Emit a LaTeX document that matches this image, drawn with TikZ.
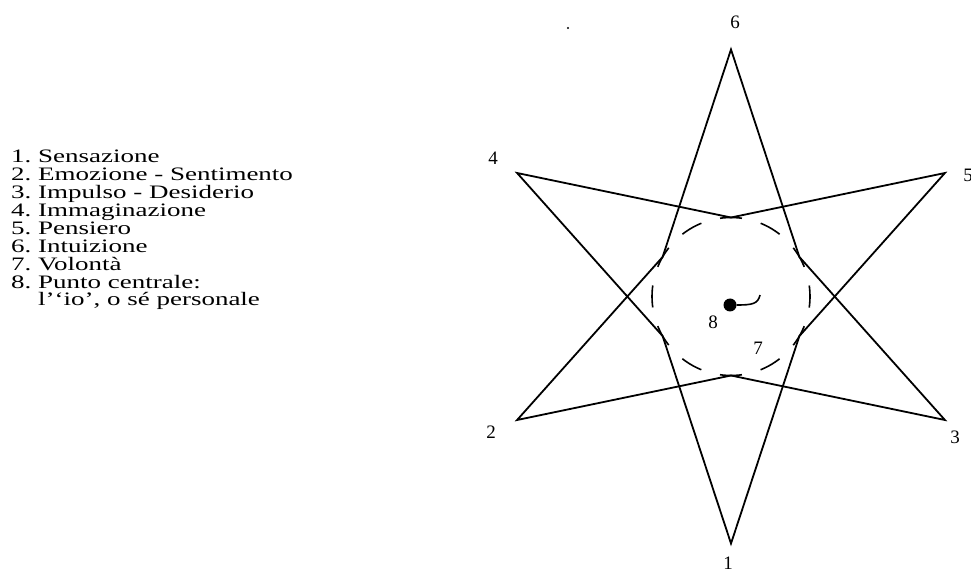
\documentclass[tikz,border=0pt]{standalone}
\usepackage{fontspec}
\setmainfont{Liberation Serif}
\newfontfamily\legfont[FakeStretch=1.42]{Liberation Serif}
\usetikzlibrary{calc}
\begin{document}
\begin{tikzpicture}[x=1pt,y=1pt,
  starline/.style={line width=1.8pt, line join=miter},
  ring/.style={line width=1.6pt, dash pattern=on 22pt off 19.36pt, dash phase=11pt},
  numlbl/.style={font=\fontsize{19}{19}\selectfont, inner sep=0pt},
  legitem/.style={font=\legfont\fontsize{19}{18}\selectfont, inner sep=0pt, anchor=base west}]
\useasboundingbox (0,0) rectangle (971,576);
\coordinate (C) at (731,279.5);
\foreach \n/\a in {6/90,4/150,2/210,1/270,3/330,5/30} {
  \coordinate (t\n) at ($(C)+(\a:247)$);
  \coordinate (k\n) at ($(C)+(\a:79)$);
}
% two interlaced three-pointed stars
\draw[starline] (t6) -- (k4) -- (t2) -- (k1) -- (t3) -- (k5) -- cycle;
\draw[starline] (t4) -- (k6) -- (t5) -- (k3) -- (t1) -- (k2) -- cycle;
% dashed circle
\draw[ring] (C) circle (79);
% centre point
\node[circle, fill, inner sep=0pt, minimum size=13pt] (dot) at (730,271) {};
\coordinate (hookend) at (760,281);
\draw[line width=1.6pt] (dot.east) .. controls (752,271) and (758,272) .. (hookend);
\node[numlbl] (n8) at (713,254) {8};
\node[numlbl] (n7) at (758,228) {7};
% tip labels
\node[numlbl] (n6) at (735,554) {6};
\node[numlbl] (n4) at (493,418) {4};
\node[numlbl] (n5) at (968,401) {5};
\node[numlbl] (n2) at (491,144) {2};
\node[numlbl] (n3) at (955,139) {3};
\node[numlbl] (n1) at (728,13) {1};
% stray speck
\fill (568,548) circle (1.1);
% legend
\node[legitem] (l1) at (11,413) {\makebox[27pt][l]{1.}Sensazione};
\node[legitem] (l2) at (11,395) {\makebox[27pt][l]{2.}Emozione - Sentimento};
\node[legitem] (l3) at (11,377) {\makebox[27pt][l]{3.}Impulso - Desiderio};
\node[legitem] (l4) at (11,359) {\makebox[27pt][l]{4.}Immaginazione};
\node[legitem] (l5) at (11,341) {\makebox[27pt][l]{5.}Pensiero};
\node[legitem] (l6) at (11,323) {\makebox[27pt][l]{6.}Intuizione};
\node[legitem] (l7) at (11,305) {\makebox[27pt][l]{7.}Volontà};
\node[legitem] (l8) at (11,287) {\makebox[27pt][l]{8.}Punto centrale:};
\node[legitem] (l9) at (38,270) {l’‘io’, o sé personale};
\end{tikzpicture}
\end{document}
